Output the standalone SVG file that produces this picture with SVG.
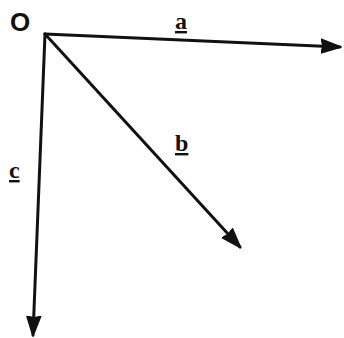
<svg xmlns="http://www.w3.org/2000/svg" width="344" height="338" viewBox="0 0 344 338">
<style>
.vec{stroke:#111;stroke-width:3;fill:none;stroke-linecap:round}
.lbl{font-family:"Liberation Serif","Times New Roman",serif;font-weight:bold;font-size:24px;fill:#111;text-decoration:underline}
.origin{font-family:"Liberation Sans",Arial,sans-serif;font-weight:bold;font-size:26px;fill:#111}
</style>
<defs>
<marker id="ah" markerUnits="userSpaceOnUse" markerWidth="22" markerHeight="18" refX="19" refY="8" orient="auto">
<path d="M0,1 L20,8 L0,15 L2,8 Z" fill="#111" stroke="#111" stroke-width="1.5" stroke-linejoin="round"/>
</marker>
</defs>
<rect width="344" height="338" fill="#fff"/>
<g id="connectors">
<line class="vec" x1="45" y1="34" x2="340" y2="47" marker-end="url(#ah)"/>
<line class="vec" x1="45" y1="34" x2="240" y2="247" marker-end="url(#ah)"/>
<line class="vec" x1="45" y1="34" x2="33" y2="335" marker-end="url(#ah)"/>
</g>
<g id="node-O"><text class="origin" x="10" y="31">O</text></g>
<g id="label-a"><text class="lbl" x="175" y="29">a</text></g>
<g id="label-b"><text class="lbl" x="175" y="151">b</text></g>
<g id="label-c"><text class="lbl" x="9" y="178">c</text></g>
</svg>
